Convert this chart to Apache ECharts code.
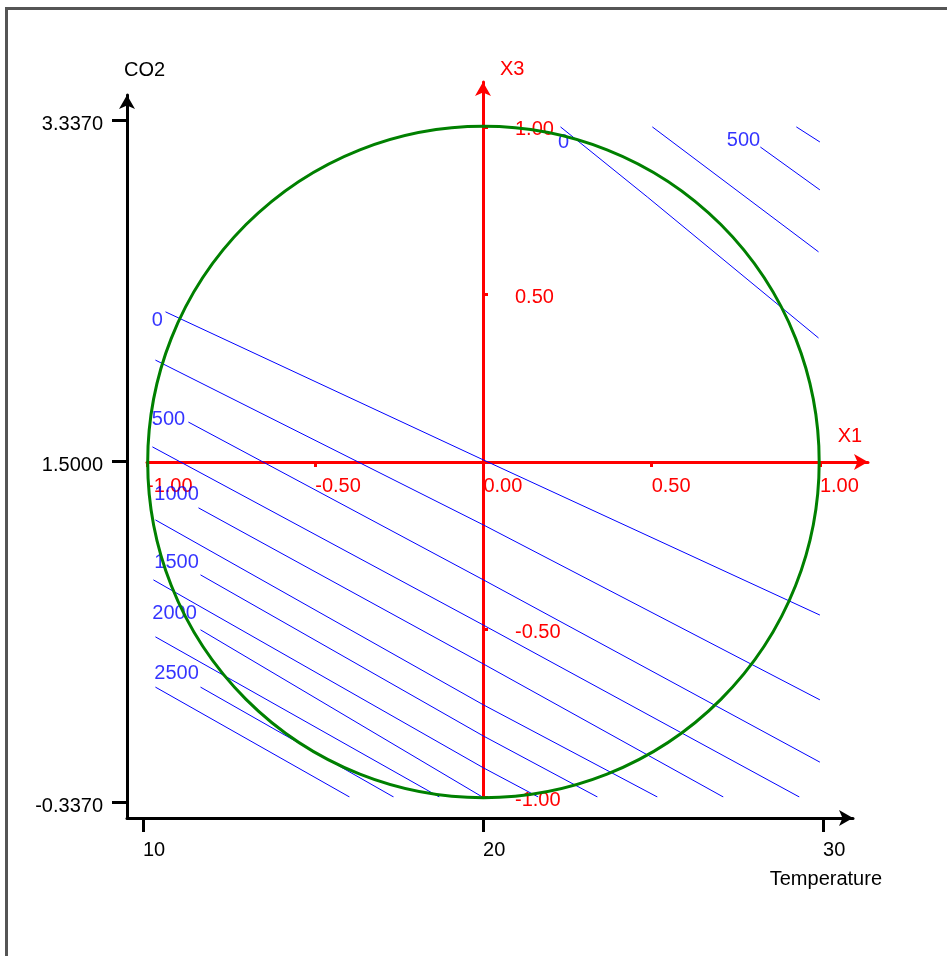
<!DOCTYPE html>
<html>
<head>
<meta charset="utf-8">
<title>CO2 - Temperature contour plot</title>
<script src="https://cdn.jsdelivr.net/npm/echarts@6/dist/echarts.min.js"></script>
<style>
  html, body { margin: 0; padding: 0; background: #fff; overflow: hidden; }
  .frame {
    position: absolute; left: 5px; top: 7px; width: 980px; height: 980px;
    border-top: 3px solid #555; border-left: 3px solid #555;
  }
  #chart { position: absolute; left: 0; top: 0; width: 947px; height: 956px; }
</style>
</head>
<body>
<div class="frame"></div>
<div id="chart"></div>
<script>
// real units (outer black axes)
const tempTicks = [10, 20, 30]
const co2Ticks = [-0.337, 1.5, 3.337]
// coded units (red axes)
const codedTicks = [-1, -0.5, 0, 0.5, 1]
const x3LabelTicks = [-1, -0.5, 0.5, 1]
// design region: circle in coded units
const designCenter = [0, 0]
const designRadius = 1

// response value of every contour line below, same order
const contourLevels = [0, 250, 500, 750, 1000, 1250, 1500, 1750, 2000, 2250, 2500, 2750, 0, 250, 500, 750]
// contour lines, points as [X1, X3]
const contourPaths = [
  [[-0.945, 0.448], [0, 0.006], [1.0, -0.457]],
  [[-0.975, 0.304], [0, -0.188], [1.0, -0.710]],
  [[-0.877, 0.119], [0, -0.352], [1.0, -0.896]],
  [[-0.984, 0.045], [0, -0.487], [0.939, -1.0]],
  [[-0.847, -0.137], [0, -0.603], [0.713, -1.0]],
  [[-0.975, -0.173], [0, -0.725], [0.517, -1.0]],
  [[-0.841, -0.337], [0, -0.818], [0.339, -1.0]],
  [[-0.981, -0.352], [0, -0.913], [0.163, -1.0]],
  [[-0.841, -0.501], [-0.003, -1.0]],
  [[-0.975, -0.522], [-0.131, -1.0]],
  [[-0.841, -0.672], [-0.267, -1.0]],
  [[-0.975, -0.672], [-0.398, -1.0]],
  [[0.229, 1.0], [0.487, 0.791], [0.996, 0.370]],
  [[0.502, 1.0], [0.996, 0.627]],
  [[0.823, 0.940], [1.0, 0.812]],
  [[0.930, 1.0], [1.0, 0.955]]
]
// contour value labels and where they sit (coded units)
const labelTexts = ['0', '500', '1000', '1500', '2000', '2500', '0', '500']
const labelPos = [
  [-0.969, 0.421], [-0.936, 0.128], [-0.912, -0.096], [-0.912, -0.301],
  [-0.918, -0.451], [-0.912, -0.630], [0.238, 0.952], [0.773, 0.958]
]

const FONT = 'Liberation Sans, Arial, sans-serif'
const FS = 20
const RED = '#ff0000'

const chart = echarts.init(document.getElementById('chart'))

// blue contour lines
const contourSeries = contourPaths.map((path, i) => ({
  type: 'line',
  name: 'level ' + contourLevels[i],
  xAxisIndex: 1,
  yAxisIndex: 1,
  data: path,
  symbol: 'none',
  silent: true,
  z: 2,
  lineStyle: { color: '#0000ff', width: 1 }
}))

// helper for axes that only carry a scale
const hiddenAxis = (gridIndex, min, max) => ({ gridIndex, type: 'value', min, max, show: false })

const option = {
  animation: false,
  grid: [
    // outer Temperature / CO2 frame
    { left: 127, right: 94, top: 95, bottom: 138 },
    // coded data area
    { left: 147, right: 79, top: 82, bottom: 159 },
    // X1 axis strip, bottom edge sits at X3 = 0
    { left: 147, right: 79, top: 82, bottom: 494 },
    // X3 axis strip, left edge sits at X1 = 0
    { left: 483, right: 79, top: 82, bottom: 159 }
  ],
  xAxis: [
    {
      gridIndex: 0,
      type: 'value',
      min: 9.53,
      max: 30.88,
      position: 'bottom',
      name: 'Temperature',
      nameLocation: 'end',
      nameGap: 29,
      nameTextStyle: { color: '#000', fontSize: FS, fontFamily: FONT, align: 'right', verticalAlign: 'top', padding: [51, 0, 0, 0] },
      axisLine: { show: true, onZero: false, symbol: ['none', 'arrow'], symbolSize: [12, 14], lineStyle: { color: '#000', width: 3 } },
      axisTick: { show: true, customValues: tempTicks, length: 14, lineStyle: { color: '#000', width: 3 } },
      axisLabel: { customValues: tempTicks, color: '#000', fontSize: FS, fontFamily: FONT, align: 'left', margin: 22 },
      splitLine: { show: false }
    },
    hiddenAxis(1, -1, 1.143),
    {
      gridIndex: 2,
      type: 'value',
      min: -1,
      max: 1.143,
      position: 'bottom',
      name: 'X1',
      nameLocation: 'end',
      nameGap: -18,
      nameTextStyle: { color: RED, fontSize: FS, fontFamily: FONT, align: 'center', verticalAlign: 'bottom', padding: [0, 0, 16, 0] },
      axisLine: { show: true, onZero: false, symbol: ['none', 'arrow'], symbolSize: [12, 14], lineStyle: { color: RED, width: 3 } },
      axisTick: { show: true, customValues: codedTicks, length: 5, lineStyle: { color: RED, width: 3 } },
      axisLabel: { customValues: codedTicks, formatter: v => v.toFixed(2), color: RED, fontSize: FS, fontFamily: FONT, align: 'left', margin: 14 },
      splitLine: { show: false }
    },
    hiddenAxis(3, 0, 1)
  ],
  yAxis: [
    {
      gridIndex: 0,
      type: 'value',
      min: -0.423,
      max: 3.472,
      position: 'left',
      name: 'CO2',
      nameLocation: 'end',
      nameGap: 15,
      nameTextStyle: { color: '#000', fontSize: FS, fontFamily: FONT, align: 'left', verticalAlign: 'bottom', padding: [0, 0, 0, -3] },
      axisLine: { show: true, onZero: false, symbol: ['none', 'arrow'], symbolSize: [12, 14], lineStyle: { color: '#000', width: 3 } },
      axisTick: { show: true, customValues: co2Ticks, length: 15, lineStyle: { color: '#000', width: 3 } },
      // short line box pushes the text a few px under the tick, like the original
      axisLabel: { customValues: co2Ticks, formatter: v => v.toFixed(4), color: '#000', fontSize: FS, fontFamily: FONT, margin: 24, verticalAlign: 'top', lineHeight: 8 },
      splitLine: { show: false }
    },
    hiddenAxis(1, -1, 1.134),
    hiddenAxis(2, 0, 1),
    {
      gridIndex: 3,
      type: 'value',
      min: -1,
      max: 1.134,
      position: 'left',
      name: 'X3',
      nameLocation: 'end',
      nameGap: 13,
      nameTextStyle: { color: RED, fontSize: FS, fontFamily: FONT, align: 'left', verticalAlign: 'middle', padding: [0, 0, 0, 17] },
      axisLine: { show: true, onZero: false, symbol: ['none', 'arrow'], symbolSize: [12, 14], lineStyle: { color: RED, width: 3 } },
      axisTick: { show: true, inside: true, customValues: codedTicks, length: 5, lineStyle: { color: RED, width: 3 } },
      axisLabel: { inside: true, customValues: x3LabelTicks, formatter: v => v.toFixed(2), color: RED, fontSize: FS, fontFamily: FONT, align: 'left', margin: 32, verticalAlign: 'top', lineHeight: 6 },
      splitLine: { show: false }
    }
  ],
  series: contourSeries.concat([
    {
      // contour value labels
      type: 'scatter',
      xAxisIndex: 1,
      yAxisIndex: 1,
      symbolSize: 1,
      silent: true,
      z: 3,
      itemStyle: { color: 'rgba(0,0,0,0)' },
      data: labelPos.map((p, i) => ({ value: p, name: labelTexts[i] })),
      label: {
        show: true,
        position: 'inside',
        formatter: p => p.name,
        color: '#0000ff',
        fontSize: FS,
        fontFamily: FONT
      }
    },
    {
      // green design region circle
      type: 'custom',
      xAxisIndex: 1,
      yAxisIndex: 1,
      silent: true,
      z: 4,
      data: [[designCenter[0], designCenter[1], designRadius]],
      renderItem: (params, api) => {
        const c = api.coord([api.value(0), api.value(1)])
        const e = api.coord([api.value(0) + api.value(2), api.value(1)])
        const t = api.coord([api.value(0), api.value(1) + api.value(2)])
        const r = ((e[0] - c[0]) + (c[1] - t[1])) / 2
        return {
          type: 'circle',
          shape: { cx: c[0], cy: c[1], r: r },
          style: { fill: 'none', stroke: '#008000', lineWidth: 3 }
        }
      }
    }
  ])
}

chart.setOption(option)
</script>
</body>
</html>
